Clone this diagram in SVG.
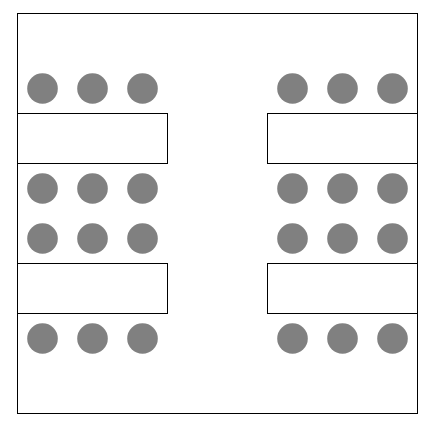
<svg xmlns="http://www.w3.org/2000/svg" width="436" height="432" viewBox="0 0 436 432">
<style>
.wall{fill:#fff;stroke:#000;stroke-width:1}
.table{fill:#fff;stroke:#000;stroke-width:1}
.seat{fill:#808080;stroke:none}
</style>
<rect width="436" height="432" fill="#fff"/>
<rect id="room" class="wall" x="17.5" y="13.5" width="400" height="400"/>
<g id="tables">
<rect class="table" x="17.5" y="113.5" width="150" height="50"/>
<rect class="table" x="267.5" y="113.5" width="150" height="50"/>
<rect class="table" x="17.5" y="263.5" width="150" height="50"/>
<rect class="table" x="267.5" y="263.5" width="150" height="50"/>
</g>
<g id="seats">
<circle class="seat" cx="42.5" cy="88.5" r="15.3"/>
<circle class="seat" cx="92.5" cy="88.5" r="15.3"/>
<circle class="seat" cx="142.5" cy="88.5" r="15.3"/>
<circle class="seat" cx="292.5" cy="88.5" r="15.3"/>
<circle class="seat" cx="342.5" cy="88.5" r="15.3"/>
<circle class="seat" cx="392.5" cy="88.5" r="15.3"/>
<circle class="seat" cx="42.5" cy="188.5" r="15.3"/>
<circle class="seat" cx="92.5" cy="188.5" r="15.3"/>
<circle class="seat" cx="142.5" cy="188.5" r="15.3"/>
<circle class="seat" cx="292.5" cy="188.5" r="15.3"/>
<circle class="seat" cx="342.5" cy="188.5" r="15.3"/>
<circle class="seat" cx="392.5" cy="188.5" r="15.3"/>
<circle class="seat" cx="42.5" cy="238.5" r="15.3"/>
<circle class="seat" cx="92.5" cy="238.5" r="15.3"/>
<circle class="seat" cx="142.5" cy="238.5" r="15.3"/>
<circle class="seat" cx="292.5" cy="238.5" r="15.3"/>
<circle class="seat" cx="342.5" cy="238.5" r="15.3"/>
<circle class="seat" cx="392.5" cy="238.5" r="15.3"/>
<circle class="seat" cx="42.5" cy="338.5" r="15.3"/>
<circle class="seat" cx="92.5" cy="338.5" r="15.3"/>
<circle class="seat" cx="142.5" cy="338.5" r="15.3"/>
<circle class="seat" cx="292.5" cy="338.5" r="15.3"/>
<circle class="seat" cx="342.5" cy="338.5" r="15.3"/>
<circle class="seat" cx="392.5" cy="338.5" r="15.3"/>
</g>
</svg>
